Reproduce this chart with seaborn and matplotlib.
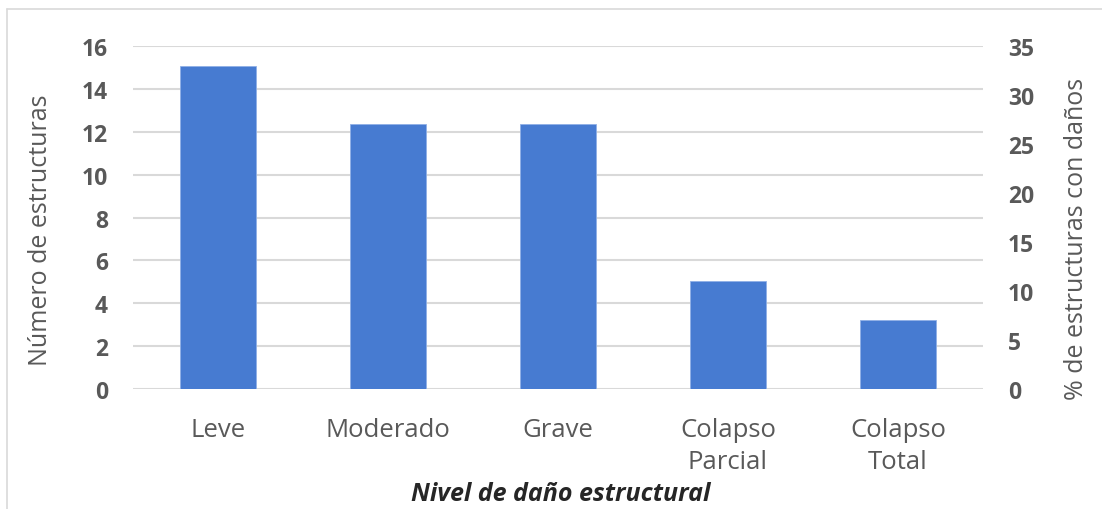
import matplotlib
matplotlib.use('Agg')
import matplotlib.pyplot as plt
import seaborn as sns
import pandas as pd
from matplotlib.lines import Line2D

# Data (bars follow the right-hand % axis)
categorias = ['Leve', 'Moderado', 'Grave', 'Colapso\nParcial', 'Colapso\nTotal']
porcentaje = [33, 27, 27, 11, 7]
ticks_izq = [0, 2, 4, 6, 8, 10, 12, 14, 16]
ticks_der = [0, 5, 10, 15, 20, 25, 30, 35]

df = pd.DataFrame({'nivel': categorias, 'pct': porcentaje})

sns.set_style('white')
plt.rcParams['font.family'] = ['Open Sans', 'DejaVu Sans']
gris = '#595959'

fig = plt.figure(figsize=(11.02, 5.1), dpi=100)
ax = fig.add_axes([0.1207, 0.2353, 0.7713, 0.6725])
ax2 = ax.twinx()

# Left axis: counts, only grid and labels
ax.set_ylim(0, 16)
ax.set_yticks(ticks_izq)
ax.yaxis.grid(True, color='#d9d9d9', linewidth=1.5)
ax.set_axisbelow(True)

# Bars on right axis
sns.barplot(data=df, x='nivel', y='pct', ax=ax2, color='#477BD1',
            width=0.45, saturation=1, edgecolor='#8fb0e6', linewidth=0.6)
ax2.set_ylim(0, 35)
ax2.set_yticks(ticks_der)
ax.set_xlim(-0.5, len(categorias) - 0.5)
ax2.set_xlim(-0.5, len(categorias) - 0.5)
ax.set_xticks(range(len(categorias)))
ax.set_xticklabels(categorias, fontsize=18.5, color=gris, linespacing=1.39)

for a in (ax, ax2):
    for s in a.spines.values():
        s.set_visible(False)
    a.tick_params(length=0)
ax.tick_params(axis='x', pad=20)
ax.tick_params(axis='y', pad=18)
ax2.tick_params(axis='y', pad=18)
for lbl in ax.get_yticklabels() + ax2.get_yticklabels():
    lbl.set_fontweight('bold')
    lbl.set_fontsize(16.5)
    lbl.set_color(gris)

ax.set_ylabel('Número de estructuras', fontsize=18, color=gris)
ax2.set_ylabel('% de estructuras con daños', fontsize=18, color=gris)
ax2.set_xlabel('')
ax.set_xlabel('Nivel de daño estructural', fontsize=18, color='#262626',
              fontweight='bold', fontstyle='italic')
ax.yaxis.set_label_coords(-0.1094, 0.465)
ax.yaxis.label.set_va('center')
ax2.yaxis.set_label_coords(1.1106, 0.44)
ax2.yaxis.label.set_va('center')
ax.xaxis.set_label_coords(0.503, -0.305)
ax.xaxis.label.set_va('center')

# Chart area border (top and left edges visible)
fig.add_artist(Line2D([0.0064, 1.0], [0.9804, 0.9804], transform=fig.transFigure,
                      color='#d9d9d9', linewidth=1.2))
fig.add_artist(Line2D([0.0064, 0.0064], [0.0, 0.9804], transform=fig.transFigure,
                      color='#d9d9d9', linewidth=1.2))

plt.savefig('out.png', dpi=100)
plt.close()
